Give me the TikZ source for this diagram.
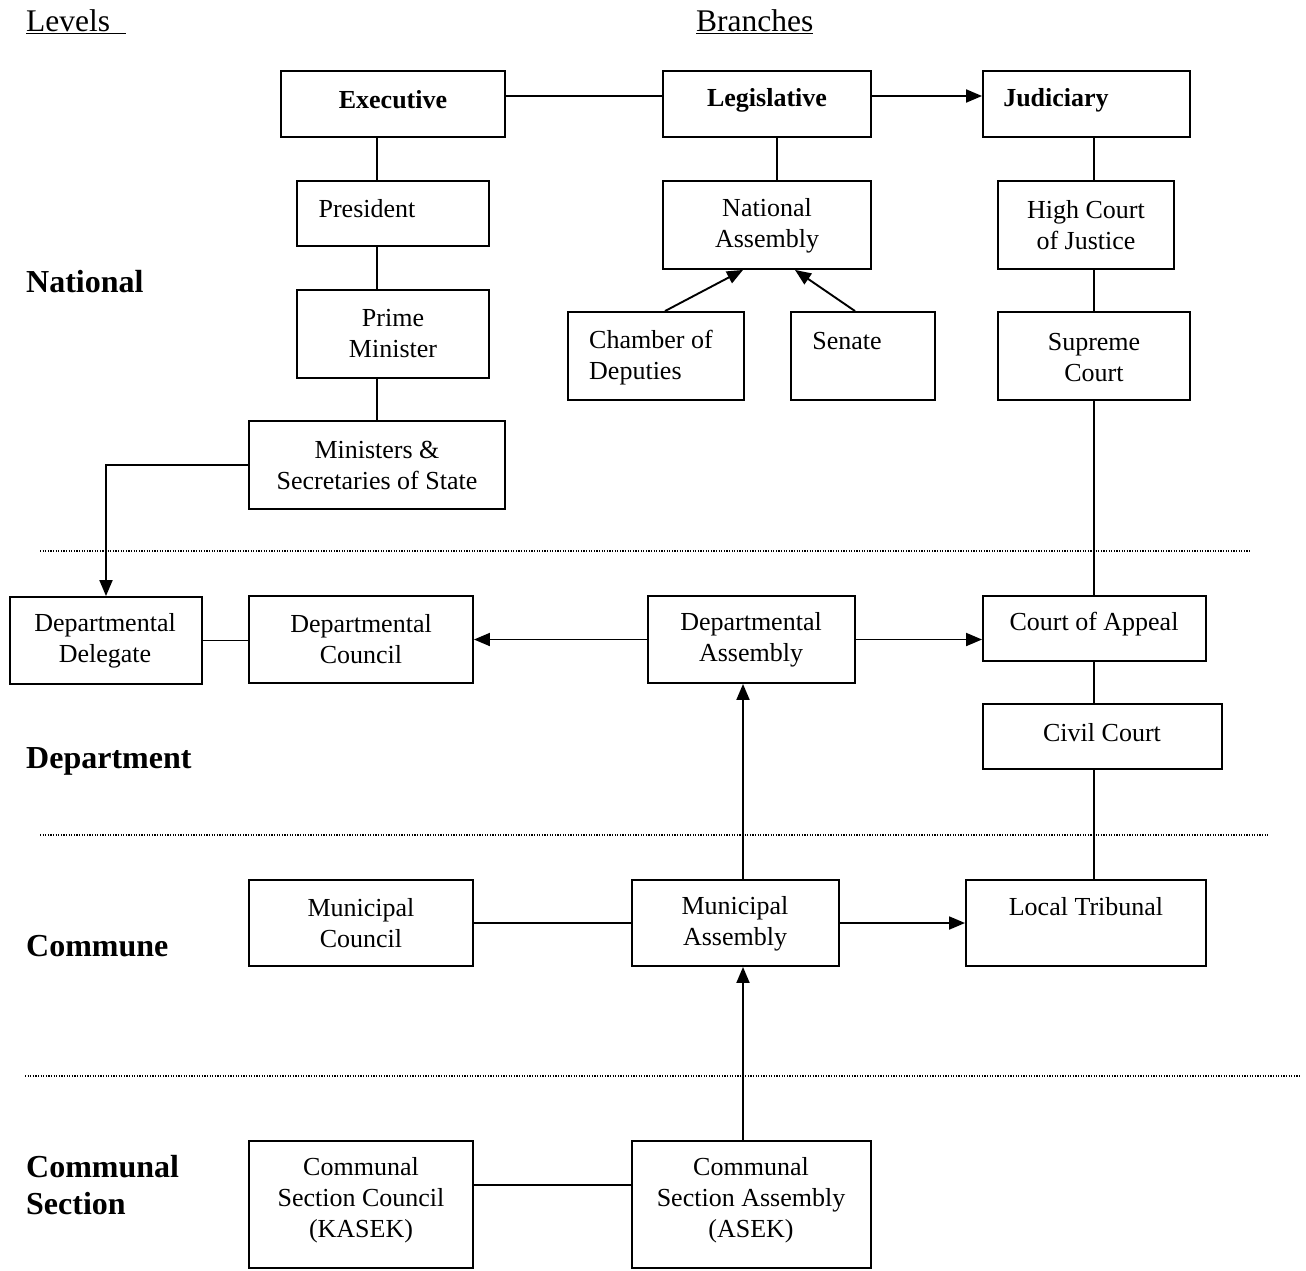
\documentclass[tikz,border=0pt]{standalone}
\usepackage{fontspec}
\setmainfont{Liberation Serif}
\usetikzlibrary{arrows.meta}
\begin{document}
\begin{tikzpicture}[x=1pt,y=-1pt,
  box/.style={draw, rectangle, line width=1.9pt, inner sep=0pt},
  txt/.style={font=\fontsize{26}{31}\selectfont, align=center, inner sep=0pt},
  btxt/.style={font=\fontsize{26}{31}\selectfont\bfseries, inner sep=0pt},
  lvl/.style={font=\fontsize{32}{37}\selectfont\bfseries, align=left, anchor=west, inner sep=0pt},
  hdr/.style={font=\fontsize{31.5}{37}\selectfont, anchor=west, inner sep=0pt},
  conn/.style={line width=1.9pt},
  arr/.style={line width=1.9pt, -{Triangle[length=16pt,width=13pt]}},
  sep/.style={line width=1.2pt, dash pattern=on 1.2pt off 1.4pt}]
\useasboundingbox (0,0) rectangle (1306,1270);
\fill[white] (0,0) rectangle (1306,1270);

% helper coordinates
\coordinate (x377) at (377,0);
\coordinate (x777) at (777,0);
\coordinate (x1094) at (1094,0);
\coordinate (x743) at (743,0);
\coordinate (y96) at (0,96);
\coordinate (y1185) at (0,1185);

% headers
\node[hdr] (hlev) at (26,22) {\underline{Levels\ \ }};
\node[hdr] (hbr) at (696,22) {\underline{Branches}};

% level labels
\node[lvl] (lnat) at (26,282) {National};
\node[lvl] (ldep) at (26,761) {Department};
\node[lvl] (lcom) at (26,946) {Commune};
\node[lvl] (lcs) at (26,1185) {Communal\\Section};

% separators
\draw[sep] (40,551) -- (1250,551);
\draw[sep] (40,835) -- (1268,835);
\draw[sep] (25,1076) -- (1300,1076);

% boxes
\node[box, minimum width=224, minimum height=66] (exec) at (393,104) {};
\node[box, minimum width=208, minimum height=66] (leg) at (767,104) {};
\node[box, minimum width=207, minimum height=66] (jud) at (1086.5,104) {};
\node[box, minimum width=192, minimum height=65] (pres) at (393,213.5) {};
\node[box, minimum width=192, minimum height=88] (pm) at (393,334) {};
\node[box, minimum width=256, minimum height=88] (min) at (377,465) {};
\node[box, minimum width=208, minimum height=88] (na) at (767,225) {};
\node[box, minimum width=176, minimum height=88] (cod) at (656,356) {};
\node[box, minimum width=144, minimum height=88] (sen) at (863,356) {};
\node[box, minimum width=176, minimum height=88] (hcj) at (1086,225) {};
\node[box, minimum width=192, minimum height=88] (sc) at (1094,356) {};
\node[box, minimum width=192, minimum height=87] (dd) at (106,640.5) {};
\node[box, minimum width=224, minimum height=87] (dc) at (361,639.5) {};
\node[box, minimum width=207, minimum height=87] (da) at (751.5,639.5) {};
\node[box, minimum width=223, minimum height=65] (coa) at (1094.5,628.5) {};
\node[box, minimum width=239, minimum height=65] (cc) at (1102.5,736.5) {};
\node[box, minimum width=224, minimum height=86] (mc) at (361,923) {};
\node[box, minimum width=207, minimum height=86] (ma) at (735.5,923) {};
\node[box, minimum width=240, minimum height=86] (lt) at (1086,923) {};
\node[box, minimum width=224, minimum height=127] (csc) at (361,1204.5) {};
\node[box, minimum width=239, minimum height=127] (csa) at (751.5,1204.5) {};

% texts
\node[btxt] (exec-t) at (393,100) {Executive};
\node[btxt] (leg-t) at (767,100) {Legislative};
\node[btxt] (jud-t) at (1056,100) {Judiciary};
\node[txt] (pres-t) at (367,209) {President};
\node[txt] (pm-t) at (393,334) {Prime\\Minister};
\node[txt] (min-t) at (377,465) {Ministers \&\\Secretaries of State};
\node[txt] (na-t) at (767,225.5) {National\\Assembly};
\node[txt, align=left, anchor=west] (cod-t) at (589,357.5) {Chamber of\\Deputies};
\node[txt] (sen-t) at (847,341) {Senate};
\node[txt] (hcj-t) at (1086,225) {High Court\\of Justice};
\node[txt] (sc-t) at (1094,357.5) {Supreme\\Court};
\node[txt] (dd-t) at (105,641) {Departmental\\Delegate};
\node[txt] (dc-t) at (361,639.5) {Departmental\\Council};
\node[txt] (da-t) at (751,639.5) {Departmental\\Assembly};
\node[txt] (coa-t) at (1094,624) {Court of Appeal};
\node[txt] (cc-t) at (1102,733) {Civil Court};
\node[txt] (mc-t) at (361,923.5) {Municipal\\Council};
\node[txt] (ma-t) at (735,923.5) {Municipal\\Assembly};
\node[txt] (lt-t) at (1086,907) {Local Tribunal};
\node[txt] (csc-t) at (361,1200) {Communal\\Section Council\\(KASEK)};
\node[txt] (csa-t) at (751,1200) {Communal\\Section Assembly\\(ASEK)};

% connectors
\draw[conn] (exec.east |- y96) -- (leg.west |- y96);
\draw[arr] (leg.east |- y96) -- (jud.west |- y96);
\draw[conn] (exec.south -| x377) -- (pres.north -| x377);
\draw[conn] (pres.south -| x377) -- (pm.north -| x377);
\draw[conn] (pm.south -| x377) -- (min.north -| x377);
\draw[arr] (min.west) -| (dd.north);
\draw[conn] (leg.south -| x777) -- (na.north -| x777);
\draw[arr] ([xshift=9pt]cod.north) -- ([xshift=-24pt]na.south);
\draw[arr] ([xshift=-8pt]sen.north) -- ([xshift=28pt]na.south);
\draw[conn] (jud.south -| x1094) -- (hcj.north -| x1094);
\draw[conn] (hcj.south -| x1094) -- (sc.north -| x1094);
\draw[conn] (sc.south -| x1094) -- (coa.north -| x1094);
\draw[conn] (coa.south -| x1094) -- (cc.north -| x1094);
\draw[conn] (cc.south -| x1094) -- (lt.north -| x1094);
\draw[conn] (dd.east) -- (dc.west |- dd.east);
\draw[arr] (da.west) -- (dc.east |- da.west);
\draw[arr] (da.east) -- (coa.west |- da.east);
\draw[arr] (ma.north -| x743) -- (da.south -| x743);
\draw[conn] (mc.east) -- (ma.west);
\draw[arr] (ma.east) -- (lt.west);
\draw[conn] (csc.east |- y1185) -- (csa.west |- y1185);
\draw[arr] (csa.north -| x743) -- (ma.south -| x743);
\end{tikzpicture}
\end{document}
